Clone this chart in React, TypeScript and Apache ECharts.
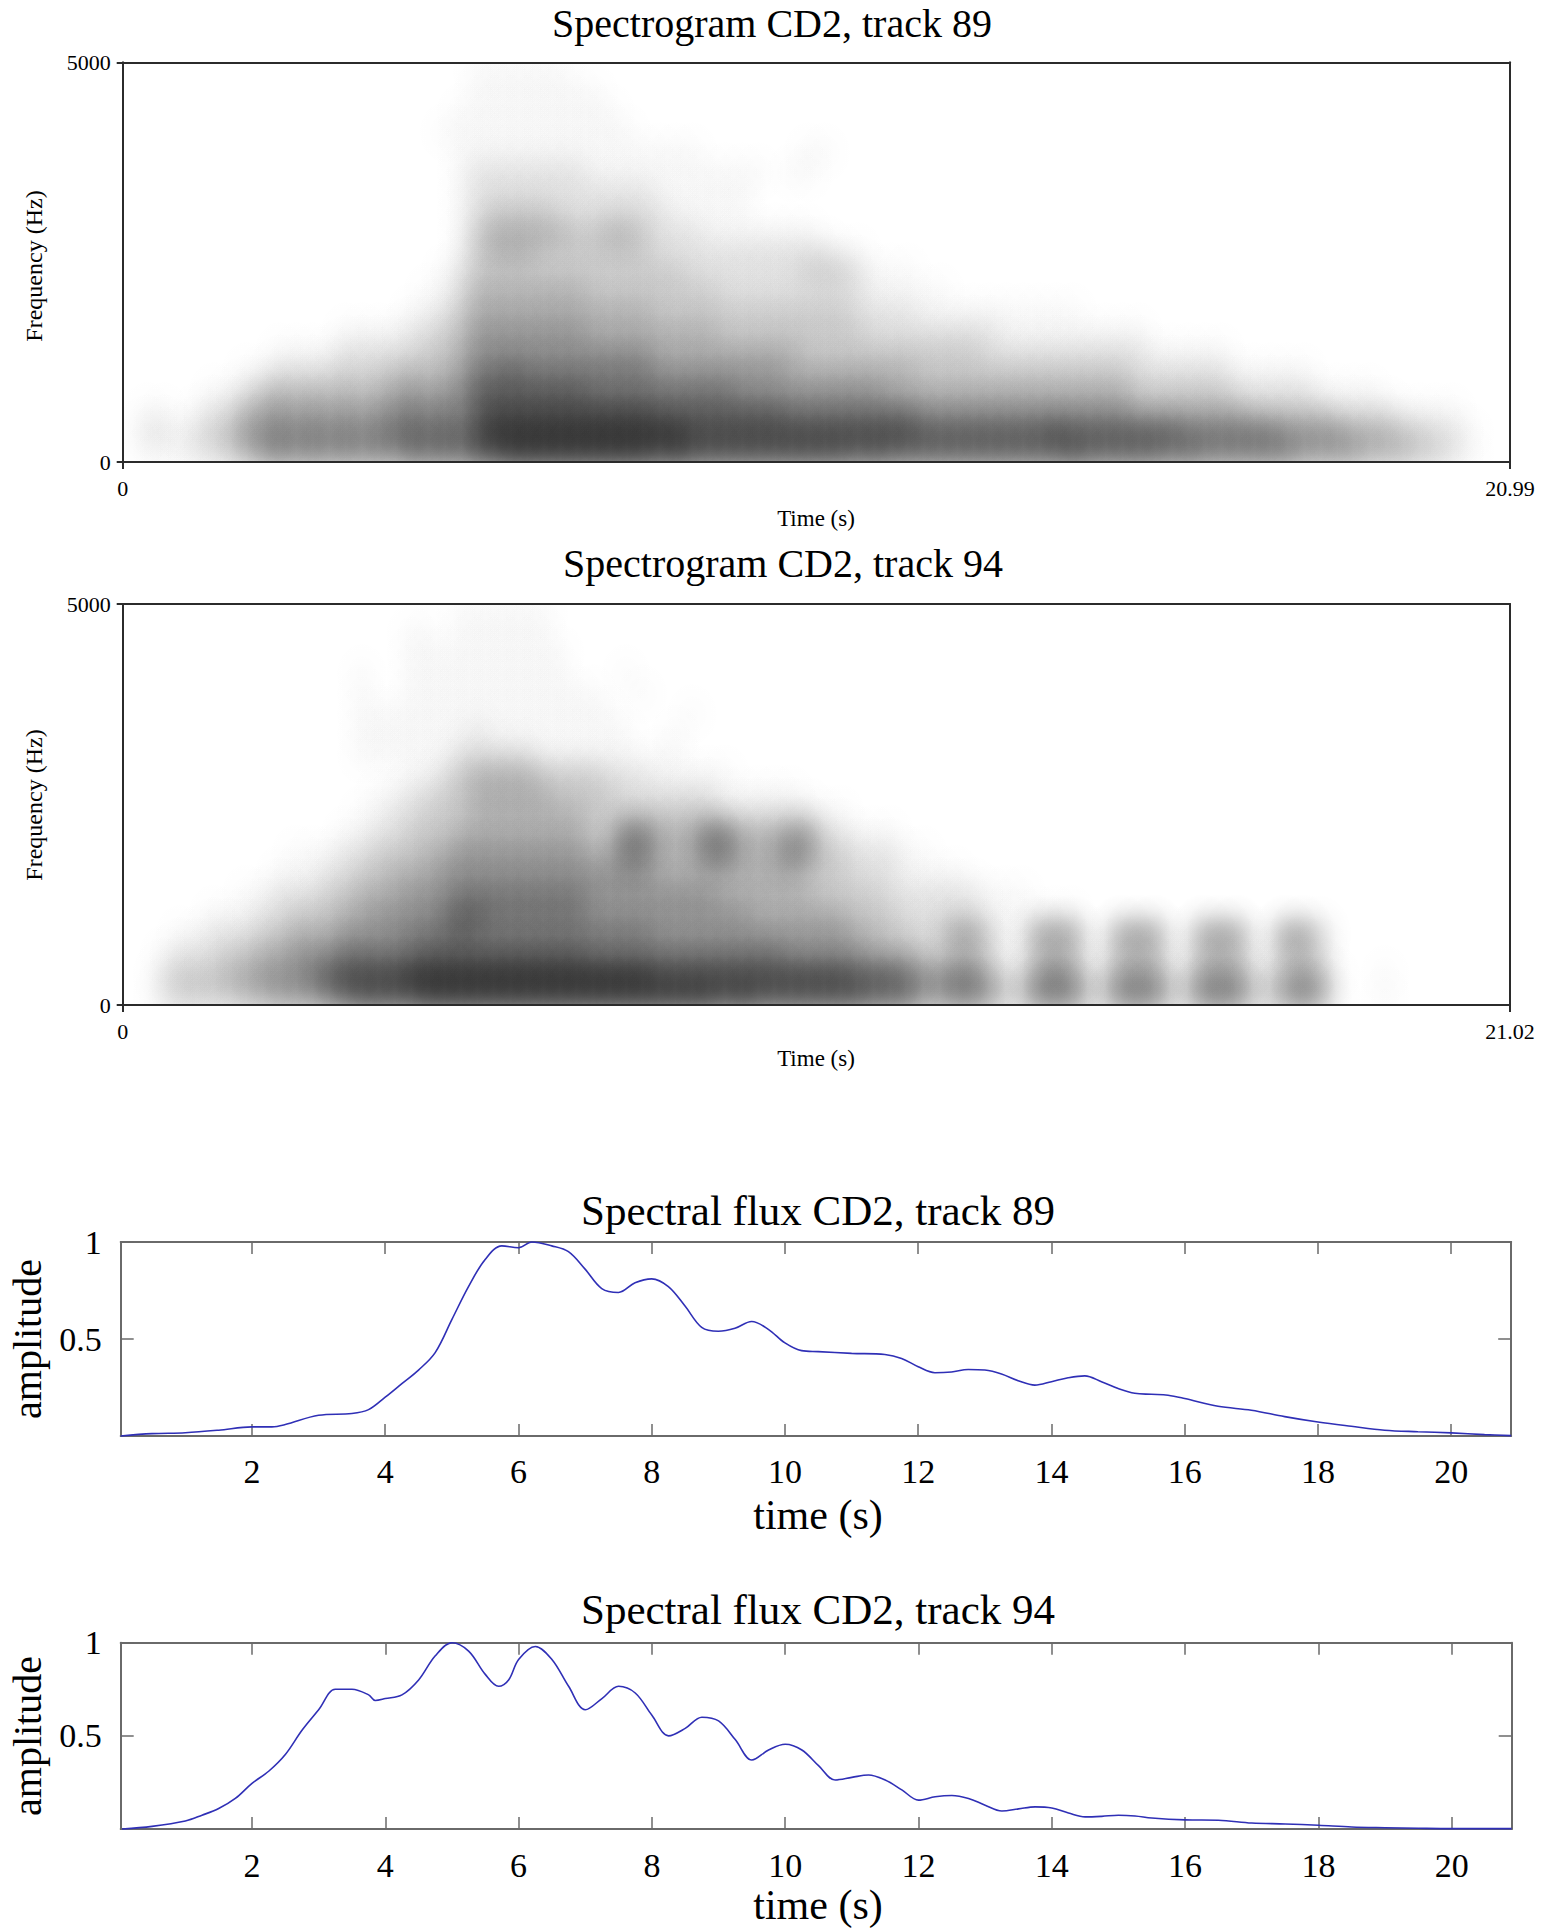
import React, { useEffect, useRef } from "react";
import * as echarts from "echarts";

const FONT = "'Liberation Serif', 'Times New Roman', serif";

// ---------- titles & labels ----------
const specTitles = ["Spectrogram CD2, track 89", "Spectrogram CD2, track 94"];
const fluxTitles = ["Spectral flux CD2, track 89", "Spectral flux CD2, track 94"];
const specTimeMax = [20.99, 21.02];
const specFreqMax = 5000;
const specXTicks89 = [0, 20.99];
const specXTicks94 = [0, 21.02];
const specYTicks = [0, 5000];
const specTimeStep = 0.25;
const specFreqStep = 250;

// spectrogram intensity (0-9), rows from 4750-5000 Hz (top) down to 0-250 Hz (bottom),
// columns every 0.25 s (groups of four = 1 s)
const spec89Rows = [
  "0000 0000 0000 0000 0000 0111 1110 0000 0000 0000 0000 0000 0000 0000 0000 0000 0000 0000 0000 0000 0000",
  "0000 0000 0000 0000 0000 0111 1111 1000 0000 0000 0000 0000 0000 0000 0000 0000 0000 0000 0000 0000 0000",
  "0000 0000 0000 0000 0000 1111 1111 1100 0000 0000 0000 0000 0000 0000 0000 0000 0000 0000 0000 0000 0000",
  "0000 0000 0000 0000 0001 1111 1111 1110 0000 0000 0000 0000 0000 0000 0000 0000 0000 0000 0000 0000 0000",
  "0000 0000 0000 0000 0000 1111 1111 1111 1110 0000 0110 0000 0000 0000 0000 0000 0000 0000 0000 0000 0000",
  "0000 0000 0000 0000 0000 1222 2222 1111 1111 1110 1100 0000 0000 0000 0000 0000 0000 0000 0000 0000 0000",
  "0000 0000 0000 0000 0000 1222 2222 2222 1111 1100 0000 0000 0000 0000 0000 0000 0000 0000 0000 0000 0000",
  "0000 0000 0000 0000 0000 1233 3322 2222 2111 1100 0000 0000 0000 0000 0000 0000 0000 0000 0000 0000 0000",
  "0000 0000 0000 0000 0000 1344 4443 3443 2221 1111 1100 0000 0000 0000 0000 0000 0000 0000 0000 0000 0000",
  "0000 0000 0000 0000 0000 1344 4333 3333 2222 2222 2221 1000 0000 0000 0000 0000 0000 0000 0000 0000 0000",
  "0000 0000 0000 0000 0001 2333 3333 3333 3322 2222 2333 2111 0000 0000 0000 0000 0000 0000 0000 0000 0000",
  "0000 0000 0000 0000 0011 2444 4444 3333 3333 2222 2222 2111 1100 0000 0000 0000 0000 0000 0000 0000 0000",
  "0000 0000 0000 0000 0112 3444 4444 4444 3333 3333 3333 2222 1111 1111 1100 0000 0000 0000 0000 0000 0000",
  "0000 0000 0000 0111 1223 3555 5555 4444 4444 3333 3333 3222 2222 2111 1111 1100 0000 0000 0000 0000 0000",
  "0000 0000 0111 1222 2233 4555 5555 5555 4444 4444 4333 3333 3333 2222 2222 2211 1110 0000 0000 0000 0000",
  "0000 0001 1222 2323 3434 4667 6666 6666 5555 5555 4444 4444 3333 3333 3333 3222 2221 1111 0000 0000 0000",
  "0000 0112 3434 3434 4545 5777 7777 6666 6666 6555 5555 5544 4444 4444 4444 4333 3332 2222 1111 0000 0000",
  "0110 1224 4545 4545 5656 5788 8888 8888 7777 7777 6666 6666 5555 5555 5555 5444 4444 3333 3222 2111 1000",
  "0221 2335 5656 5656 6767 6899 9999 9999 9988 8888 8888 8888 7777 7777 8777 7777 6666 6655 5544 4332 2100",
  "0111 2234 5656 5656 5767 6889 9999 9999 8988 8888 8888 7877 7777 7777 7877 7776 7666 6665 5554 4433 2100",
];

const spec94Rows = [
  "0000 0000 0000 0000 0000 1111 1100 0000 0000 0000 0000 0000 0000 0000 0000 0000 0000 0000 0000 0000 0000",
  "0000 0000 0000 0000 0110 1111 1100 0000 0000 0000 0000 0000 0000 0000 0000 0000 0000 0000 0000 0000 0000",
  "0000 0000 0000 0000 0111 1111 1110 0000 0000 0000 0000 0000 0000 0000 0000 0000 0000 0000 0000 0000 0000",
  "0000 0000 0000 0010 0111 1111 1110 0010 0000 0000 0000 0000 0000 0000 0000 0000 0000 0000 0000 0000 0000",
  "0000 0000 0000 0010 0111 1111 1111 1001 0000 0000 0000 0000 0000 0000 0000 0000 0000 0000 0000 0000 0000",
  "0000 0000 0000 0011 1111 1111 1111 1100 0010 0000 0000 0000 0000 0000 0000 0000 0000 0000 0000 0000 0000",
  "0000 0000 0000 0011 1111 1211 1111 1110 0100 0000 0000 0000 0000 0000 0000 0000 0000 0000 0000 0000 0000",
  "0000 0000 0000 0011 1111 2222 2111 1110 1100 0000 0000 0000 0000 0000 0000 0000 0000 0000 0000 0000 0000",
  "0000 0000 0000 0000 0112 3444 4333 3222 1111 1000 0000 0000 0000 0000 0000 0000 0000 0000 0000 0000 0000",
  "0000 0000 0000 0001 1223 3444 4433 3322 2222 1111 1000 0000 0000 0000 0000 0000 0000 0000 0000 0000 0000",
  "0000 0000 0000 0011 2233 3444 4444 3333 3333 2222 2211 0000 0000 0000 0000 0000 0000 0000 0000 0000 0000",
  "0000 0000 0000 0112 2333 4444 4444 3366 4446 6444 5522 1110 0000 0000 0000 0000 0000 0000 0000 0000 0000",
  "0000 0000 0011 1223 3344 5555 5555 4466 4446 6444 6533 2221 1000 0000 0000 0000 0000 0000 0000 0000 0000",
  "0000 0000 0111 2233 4445 5555 5555 5555 4444 4444 4333 2221 1110 0000 0000 0000 0000 0000 0000 0000 0000",
  "0000 0001 1222 3344 4555 6666 6666 5555 5555 4444 4433 3322 2222 1110 0000 0000 0000 0000 0000 0000 0000",
  "0000 0111 2233 3445 5556 7766 6666 5555 5555 5544 4444 3332 2222 1111 1100 0000 0000 0000 0000 0000 0000",
  "0001 1222 3344 4555 5666 7666 6666 6666 5555 5555 5555 4433 2355 3115 5511 5551 1555 1155 3000 0000 0000",
  "0012 2233 4455 5666 6677 7777 7777 6666 6666 6666 5555 5444 3233 2113 3311 3331 1333 1133 2000 0000 0000",
  "0023 3344 5556 7888 8999 9999 9999 9999 8888 8888 8888 7776 5566 4225 6522 5552 2555 2245 4100 1000 0000",
  "0023 3334 4555 6788 8899 9999 9999 9999 9999 8988 8888 8777 5566 5336 6633 6663 3666 3356 5100 1000 0000",
];

// peak opacity of the soft spot drawn for each intensity level
const levelAlpha = [0, 0.011, 0.035, 0.063, 0.099, 0.143, 0.196, 0.248, 0.3, 0.37];
// gaussian fall-off of each soft spot, from its centre (0) to its rim (1)
const spotProfile = [1, 0.968, 0.877, 0.744, 0.591, 0.439, 0.306, 0.199, 0.122, 0.069, 0];
// spot radius, in cells
const spotRadius = 2.05;

// ---------- spectral flux ----------
const flux89Time = [0.03, 0.5, 1.0, 1.5, 2.0, 2.3, 2.5, 3.0, 3.5, 3.75, 4.0, 4.25, 4.5, 4.75, 5.0, 5.25, 5.5, 5.75, 6.0, 6.2, 6.5, 6.75, 7.0, 7.25, 7.5, 7.75, 8.0, 8.25, 8.5, 8.75, 9.0, 9.25, 9.5, 9.75, 10.0, 10.25, 10.5, 11.0, 11.5, 11.75, 12.0, 12.25, 12.5, 12.75, 13.0, 13.25, 13.5, 13.75, 14.0, 14.25, 14.5, 14.75, 15.0, 15.25, 15.5, 15.75, 16.0, 16.5, 17.0, 17.5, 18.0, 18.5, 19.0, 19.5, 20.0, 20.5, 20.9];
const flux89Value = [0.0, 0.012, 0.017, 0.03, 0.047, 0.047, 0.059, 0.107, 0.116, 0.136, 0.2, 0.27, 0.34, 0.43, 0.6, 0.77, 0.91, 0.98, 0.97, 1.0, 0.98, 0.95, 0.86, 0.76, 0.74, 0.79, 0.81, 0.77, 0.67, 0.56, 0.54, 0.555, 0.59, 0.55, 0.48, 0.44, 0.435, 0.426, 0.42, 0.4, 0.357, 0.326, 0.33, 0.343, 0.34, 0.32, 0.285, 0.262, 0.28, 0.3, 0.31, 0.28, 0.245, 0.22, 0.215, 0.21, 0.193, 0.153, 0.133, 0.1, 0.072, 0.05, 0.03, 0.022, 0.016, 0.007, 0.002];

const flux94Time = [0.05, 0.5, 1.0, 1.25, 1.5, 1.75, 2.0, 2.25, 2.5, 2.75, 3.0, 3.25, 3.5, 3.75, 3.85, 4.0, 4.25, 4.5, 4.75, 5.0, 5.25, 5.5, 5.7, 5.85, 6.0, 6.25, 6.5, 6.75, 7.0, 7.25, 7.5, 7.75, 8.0, 8.25, 8.5, 8.75, 9.0, 9.25, 9.5, 9.75, 10.0, 10.25, 10.5, 10.75, 11.0, 11.25, 11.5, 11.75, 12.0, 12.25, 12.5, 12.75, 13.0, 13.25, 13.5, 13.75, 14.0, 14.25, 14.5, 14.75, 15.0, 15.25, 15.5, 16.0, 16.5, 17.0, 17.5, 18.0, 18.5, 19.0, 19.5, 20.0, 20.9];
const flux94Value = [0.0, 0.014, 0.043, 0.074, 0.11, 0.164, 0.245, 0.31, 0.4, 0.53, 0.64, 0.75, 0.75, 0.72, 0.69, 0.7, 0.72, 0.8, 0.93, 1.0, 0.955, 0.83, 0.766, 0.8, 0.91, 0.98, 0.91, 0.766, 0.64, 0.7, 0.766, 0.73, 0.61, 0.5, 0.54, 0.6, 0.58, 0.48, 0.37, 0.424, 0.455, 0.424, 0.34, 0.263, 0.277, 0.29, 0.263, 0.21, 0.155, 0.173, 0.18, 0.164, 0.128, 0.097, 0.108, 0.119, 0.113, 0.086, 0.065, 0.068, 0.074, 0.07, 0.059, 0.049, 0.047, 0.032, 0.027, 0.02, 0.011, 0.007, 0.004, 0.002, 0.002];

const fluxXMin = 0.03;
const fluxXMax = 20.9;
const fluxXTicks = [2, 4, 6, 8, 10, 12, 14, 16, 18, 20];
const fluxYTicks = [0.5, 1];

// ---------- helpers ----------
function buildCells(rows: string[]) {
  const out: number[][] = [];
  const n = rows.length;
  rows.forEach((r, i) => {
    const s = r.replace(/\s+/g, "");
    const band = n - 1 - i;
    for (let c = 0; c < s.length; c++) {
      const L = Number(s[c]);
      if (L > 0) out.push([c * specTimeStep, band * specFreqStep, L]);
    }
  });
  return out;
}

const fmt = (v: number) => String(Math.round(v * 100) / 100);

const SPEC_LINE = "#2b2b2b";
const FLUX_LINE = "#6a6a6a";

const specGrids = [
  { left: 122.7, top: 62.3, width: 1387.3, height: 399.7 },
  { left: 122.7, top: 604, width: 1387.3, height: 401 },
];
const fluxGrids = [
  { left: 120.7, top: 1242, width: 1390.5, height: 194 },
  { left: 120.7, top: 1642.7, width: 1391, height: 186.3 },
];

export default function App() {
  const ref = useRef<HTMLDivElement>(null);

  useEffect(() => {
    if (!ref.current) return;
    const chart = echarts.init(ref.current, undefined, { renderer: "svg" });

    const grids: any[] = [];
    const xAxes: any[] = [];
    const yAxes: any[] = [];
    const series: any[] = [];

    const specCells = [buildCells(spec89Rows), buildCells(spec94Rows)];
    const specXTicks = [specXTicks89, specXTicks94];
    const spotFill = levelAlpha.map((a) => ({
      type: "radial", x: 0.5, y: 0.5, r: 0.5,
      colorStops: spotProfile.map((w, k) => ({
        offset: k / (spotProfile.length - 1),
        color: `rgba(0,0,0,${(a * w).toFixed(4)})`,
      })),
    }));

    specGrids.forEach((g, i) => {
      grids.push({ ...g, containLabel: false });
      const gi = grids.length - 1;
      const line = { show: true, onZero: false, lineStyle: { color: SPEC_LINE, width: 2 } };
      xAxes.push({
        gridIndex: gi, type: "value", position: "bottom", min: 0, max: specTimeMax[i], z: 5,
        axisLine: line,
        axisTick: { show: true, inside: false, length: 7, lineStyle: { color: SPEC_LINE, width: 2 }, customValues: specXTicks[i] },
        axisLabel: { show: true, customValues: specXTicks[i], margin: 15, fontSize: 22, fontFamily: FONT, color: "#000", formatter: fmt },
        splitLine: { show: false },
      });
      xAxes.push({
        gridIndex: gi, type: "value", position: "top", min: 0, max: specTimeMax[i], z: 5,
        axisLine: line, axisTick: { show: false }, axisLabel: { show: false }, splitLine: { show: false },
      });
      yAxes.push({
        gridIndex: gi, type: "value", position: "left", min: 0, max: specFreqMax, z: 5,
        axisLine: line,
        axisTick: { show: true, inside: false, length: 6, lineStyle: { color: SPEC_LINE, width: 2 }, customValues: specYTicks },
        axisLabel: { show: true, customValues: specYTicks, margin: 12, fontSize: 22, fontFamily: FONT, color: "#000", formatter: fmt },
        splitLine: { show: false },
      });
      yAxes.push({
        gridIndex: gi, type: "value", position: "right", min: 0, max: specFreqMax, z: 5,
        axisLine: line, axisTick: { show: false }, axisLabel: { show: false }, splitLine: { show: false },
      });
      const xi = xAxes.length - 2;
      const yi = yAxes.length - 2;
      series.push({
        type: "custom",
        xAxisIndex: xi,
        yAxisIndex: yi,
        clip: true,
        silent: true,
        z: 1,
        data: specCells[i],
        renderItem: (_p: any, api: any) => {
          const t = api.value(0);
          const f = api.value(1);
          const L = api.value(2);
          const p0 = api.coord([t, f]);
          const p1 = api.coord([t + specTimeStep, f + specFreqStep]);
          const cx = (p0[0] + p1[0]) / 2;
          const cy = (p0[1] + p1[1]) / 2;
          const cellW = p1[0] - p0[0];
          const cellH = p0[1] - p1[1];
          return {
            type: "ellipse",
            shape: { cx, cy, rx: cellW * spotRadius, ry: cellH * spotRadius },
            style: { fill: spotFill[L] },
          };
        },
      });
    });

    const fluxData = [
      flux89Time.map((t, k) => [t, flux89Value[k]]),
      flux94Time.map((t, k) => [t, flux94Value[k]]),
    ];
    const labelMargins = [18, 19];

    fluxGrids.forEach((g, i) => {
      grids.push({ ...g, containLabel: false });
      const gi = grids.length - 1;
      const line = { show: true, onZero: false, lineStyle: { color: FLUX_LINE, width: 2 } };
      const tickStyle = { color: FLUX_LINE, width: 1.5 };
      xAxes.push({
        gridIndex: gi, type: "value", position: "bottom", min: fluxXMin, max: fluxXMax,
        axisLine: line,
        axisTick: { show: true, inside: true, length: 12, lineStyle: tickStyle, customValues: fluxXTicks },
        axisLabel: { show: true, customValues: fluxXTicks, margin: labelMargins[i], fontSize: 34, fontFamily: FONT, color: "#000", formatter: fmt },
        splitLine: { show: false },
      });
      xAxes.push({
        gridIndex: gi, type: "value", position: "top", min: fluxXMin, max: fluxXMax,
        axisLine: line,
        axisTick: { show: true, inside: true, length: 12, lineStyle: tickStyle, customValues: fluxXTicks },
        axisLabel: { show: false }, splitLine: { show: false },
      });
      yAxes.push({
        gridIndex: gi, type: "value", position: "left", min: 0, max: 1,
        axisLine: line,
        axisTick: { show: true, inside: true, length: 13, lineStyle: tickStyle, customValues: fluxYTicks },
        axisLabel: { show: true, customValues: fluxYTicks, margin: 19, fontSize: 34, fontFamily: FONT, color: "#000", formatter: fmt },
        splitLine: { show: false },
      });
      yAxes.push({
        gridIndex: gi, type: "value", position: "right", min: 0, max: 1,
        axisLine: line,
        axisTick: { show: true, inside: true, length: 13, lineStyle: tickStyle, customValues: fluxYTicks },
        axisLabel: { show: false }, splitLine: { show: false },
      });
      const xi = xAxes.length - 2;
      const yi = yAxes.length - 2;
      series.push({
        type: "line",
        xAxisIndex: xi,
        yAxisIndex: yi,
        data: fluxData[i],
        showSymbol: false,
        symbol: "none",
        smooth: 0.35,
        silent: true,
        clip: false,
        lineStyle: { color: "#2f2fb6", width: 1.6 },
      });
    });

    const txt = (text: string, x: number, y: number, size: number, rot = 0) => ({
      type: "text",
      x,
      y,
      rotation: rot,
      silent: true,
      style: { text, fontSize: size, fontFamily: FONT, fill: "#000", align: "center", verticalAlign: "middle" },
    });

    const graphic = [
      txt(specTitles[0], 772, 23, 40),
      txt(specTitles[1], 783, 563, 40),
      txt("Time (s)", 816, 518, 23),
      txt("Time (s)", 816, 1058, 23),
      txt("Frequency (Hz)", 34, 266, 24, Math.PI / 2),
      txt("Frequency (Hz)", 34, 805, 24, Math.PI / 2),
      txt(fluxTitles[0], 818, 1210, 43),
      txt(fluxTitles[1], 818, 1609, 43),
      txt("time (s)", 818, 1515, 42),
      txt("time (s)", 818, 1905, 42),
      txt("amplitude", 27, 1339, 40, Math.PI / 2),
      txt("amplitude", 27, 1736, 40, Math.PI / 2),
    ];

    chart.setOption({
      animation: false,
      backgroundColor: "#ffffff",
      grid: grids,
      xAxis: xAxes,
      yAxis: yAxes,
      series,
      graphic,
    });

    return () => chart.dispose();
  }, []);

  return (
    <div
      ref={ref}
      style={{ position: "absolute", left: 0, top: 0, width: 1544, height: 1930, background: "#fff" }}
    />
  );
}
